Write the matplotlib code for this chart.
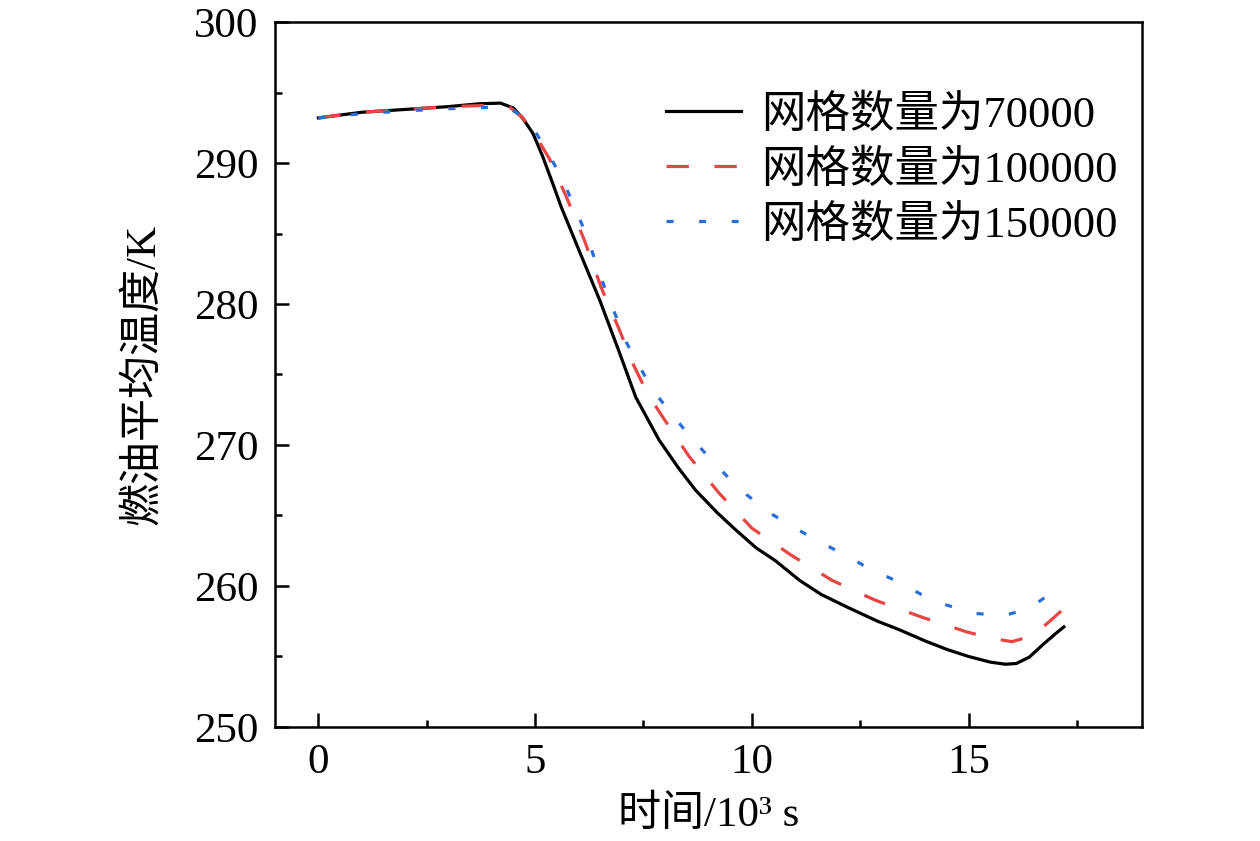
import matplotlib
matplotlib.use("Agg")
import matplotlib.pyplot as plt
from matplotlib.ticker import MultipleLocator

plt.rcParams['font.family'] = ['Liberation Serif', 'Noto Sans CJK SC']
plt.rcParams['font.size'] = 31

# data (time in 10^3 s, temperature in K)
t_70k = [0, 0.5, 1, 2, 3, 3.7, 4.2, 4.5, 4.72, 4.95, 5.17, 5.4, 5.6, 6.0, 6.5,
         6.94, 7.32, 7.86, 8.3, 8.7, 9.2, 9.62, 10.1, 10.54, 11.1, 11.6, 12.2,
         12.9, 13.4, 14.0, 14.5, 15.0, 15.5, 15.85, 16.1, 16.4, 16.7, 17.0, 17.2]
T_70k = [293.2, 293.4, 293.6, 293.8, 294.0, 294.2, 294.25, 293.9, 293.15, 292.1,
         290.5, 288.6, 286.9, 283.9, 280.2, 276.6, 273.4, 270.35, 268.4, 266.8,
         265.2, 264.0, 262.7, 261.8, 260.4, 259.4, 258.5, 257.5, 256.9, 256.1,
         255.5, 255.0, 254.6, 254.45, 254.5, 254.95, 255.8, 256.6, 257.1]

t_100k = [0, 1, 2, 3, 4, 4.4, 4.72, 5.0, 5.33, 5.72, 6.14, 6.52, 6.94, 7.25, 7.6,
          7.94, 8.55, 9.24, 10.0, 10.9, 11.85, 12.84, 13.91, 14.95, 15.5, 16.0,
          16.4, 16.8, 17.2]
T_100k = [293.2, 293.6, 293.8, 294.0, 294.1, 294.0, 293.2, 292.0, 290.3, 287.6,
          284.5, 281.2, 278.2, 275.8, 273.6, 272.0, 269.2, 266.6, 264.1, 262.2,
          260.4, 259.0, 257.8, 256.75, 256.3, 256.05, 256.4, 257.3, 258.4]

t_150k = [0, 1, 2, 3, 4, 4.4, 4.7, 4.99, 5.3, 5.64, 6.17, 6.6, 7.1, 7.71, 8.52,
          8.93, 9.39, 9.89, 10.43, 11.0, 11.58, 12.15, 12.73, 13.34, 13.91, 14.49,
          15.16, 15.82, 16.4, 16.95, 17.2]
T_150k = [293.2, 293.5, 293.7, 293.85, 293.95, 293.9, 293.3, 292.3, 290.7, 288.8,
          285.0, 281.2, 277.3, 273.9, 270.8, 269.4, 267.9, 266.45, 265.15, 264.1,
          263.1, 262.2, 261.2, 260.35, 259.4, 258.65, 258.05, 257.9, 258.4, 259.6,
          260.0]

labels = ['网格数量为70000', '网格数量为100000', '网格数量为150000']

fig = plt.figure(figsize=(12.6, 8.41), dpi=100)
ax = fig.add_axes([0.2183, 0.1356, 0.6880, 0.8382])

ax.plot(t_70k, T_70k, color='black', lw=2.3, label=labels[0])
ax.plot(t_100k, T_100k, color='#e84545', lw=2.3, dashes=(7, 8), label=labels[1])
ax.plot(t_150k, T_150k, color='#2b6fd6', lw=2.3, dashes=(2.2, 8), label=labels[2])

ax.set_xlim(-1, 19)
ax.set_ylim(250, 300)
ax.xaxis.set_major_locator(MultipleLocator(5))
ax.xaxis.set_minor_locator(MultipleLocator(2.5))
ax.yaxis.set_major_locator(MultipleLocator(10))
ax.yaxis.set_minor_locator(MultipleLocator(5))
ax.tick_params(which='both', direction='in', top=False, right=False, width=1.8)
ax.tick_params(which='major', length=10, pad=12)
ax.tick_params(which='minor', length=5)
for s in ax.spines.values():
    s.set_linewidth(1.8)

ax.set_xlabel('时间/10³ s', labelpad=10)
ax.set_ylabel('燃油平均温度/K', labelpad=22)

ax.legend(loc='upper right', frameon=False, handlelength=1.7, handletextpad=0.45,
          labelspacing=0.3, fontsize=32, bbox_to_anchor=(1.003, 0.935),
          borderaxespad=0.2)

fig.savefig('out.png', dpi=100)
